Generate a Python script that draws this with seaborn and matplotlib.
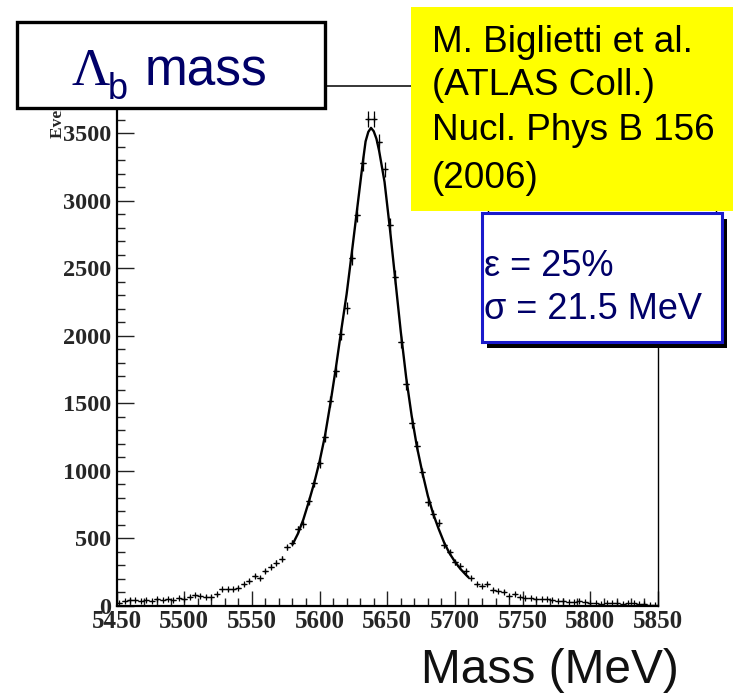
import numpy as np
import pandas as pd
import matplotlib
matplotlib.use("Agg")
import matplotlib.pyplot as plt
import seaborn as sns
from matplotlib.patches import Rectangle

# Lambda_b candidate mass spectrum, 4 MeV bins from 5450 to 5850 MeV
bin_centers = np.arange(5452, 5852, 4)
counts = [
    25, 35, 44, 42, 40, 45, 40, 50, 42, 55,
    45, 60, 52, 70, 78, 77, 70, 70, 87, 124,
    124, 124, 135, 160, 185, 222, 210, 259, 291, 320,
    350, 434, 470, 568, 605, 779, 908, 1056, 1249, 1515,
    1737, 2015, 2207, 2575, 2894, 3278, 3605, 3605, 3434, 3234,
    2820, 2435, 1956, 1641, 1358, 1185, 990, 768, 681, 617,
    452, 397, 323, 298, 261, 210, 161, 150, 160, 120,
    111, 106, 72, 88, 69, 62, 57, 49, 49, 49,
    44, 39, 37, 32, 32, 37, 32, 20, 25, 12,
    25, 25, 20, 12, 20, 20, 12, 15, 8, 5,
]

# Fitted signal curve over the peak region
fit_mass = [5580, 5584, 5588, 5592, 5596, 5600, 5604, 5608, 5612, 5616,
            5620, 5624, 5628, 5632, 5634, 5636, 5638, 5640, 5642, 5644,
            5648, 5652, 5656, 5660, 5664, 5668, 5672, 5676, 5680, 5684,
            5688, 5692, 5696, 5700, 5704, 5708, 5710]
fit_events = [455, 535, 640, 770, 910, 1070, 1260, 1500, 1760, 2040,
              2310, 2630, 2960, 3290, 3440, 3510, 3540, 3515, 3460, 3370,
              3140, 2790, 2410, 2030, 1690, 1410, 1175, 985, 815, 680,
              570, 470, 390, 328, 275, 232, 212]

x_ticks = [5450, 5500, 5550, 5600, 5650, 5700, 5750, 5800, 5850]
x_tick_labels = ["5450", "5500", "5550", "5600", "5650", "5700", "5750", "5800", "5850"]
y_ticks = [0, 500, 1000, 1500, 2000, 2500, 3000, 3500]
y_tick_labels = ["0", "500", "1000", "1500", "2000", "2500", "3000", "3500"]

W, H = 733, 693
NAVY = "#000068"


def fx(px):
    return px / W


def fy(py):
    return 1 - py / H


sns.set_style("ticks")
fig = plt.figure(figsize=(W / 100, H / 100), dpi=100)
fig.patch.set_facecolor("white")

ax = fig.add_axes([fx(116.5), fy(606), (658 - 116.5) / W, (606 - 86) / H])

df_fit = pd.DataFrame({"mass": fit_mass, "events": fit_events})
sns.lineplot(data=df_fit, x="mass", y="events", ax=ax, color="black",
             linewidth=1.7, sort=False, zorder=3)

counts_arr = np.asarray(counts, dtype=float)
ax.errorbar(bin_centers, counts_arr, xerr=2, yerr=np.sqrt(counts_arr),
            fmt="+", color="black", markersize=4.2, markeredgewidth=0.9,
            ecolor="black", elinewidth=0.9, capsize=0, zorder=4)

ax.set_xlim(5450, 5850)
ax.set_ylim(0, 3850)
ax.set_xlabel("")
ax.set_ylabel("")

ax.set_xticks(x_ticks)
ax.set_xticklabels(x_tick_labels)
ax.set_xticks(np.arange(5450, 5851, 10), minor=True)
ax.set_yticks(y_ticks)
ax.set_yticklabels(y_tick_labels)
ax.set_yticks(np.arange(0, 3851, 100), minor=True)

for lab in ax.get_xticklabels():
    lab.set_fontproperties(matplotlib.font_manager.FontProperties(
        family="Liberation Serif", weight="bold", size=18))
for lab in ax.get_yticklabels():
    lab.set_fontproperties(matplotlib.font_manager.FontProperties(
        family="Liberation Serif", weight="bold", size=17.5))

ax.tick_params(axis="x", which="major", direction="in", length=11, width=1.0,
               color="#222222", pad=3)
ax.tick_params(axis="x", which="minor", direction="in", length=5.5, width=1.0,
               color="#222222")
ax.tick_params(axis="y", which="major", direction="in", length=12, width=1.0,
               color="#222222", pad=4)
ax.tick_params(axis="y", which="minor", direction="in", length=5.5, width=1.0,
               color="#222222")
ax.tick_params(top=False, right=False, which="both")

for side, lw in (("left", 1.6), ("bottom", 1.6), ("right", 1.0), ("top", 1.1)):
    ax.spines[side].set_visible(True)
    ax.spines[side].set_linewidth(lw)
    ax.spines[side].set_color("black")

# y-axis title, mostly tucked under the title box
fig.text(fx(58), fy(138), "Events / 4 MeV", rotation=90, ha="center", va="bottom",
         family="Liberation Serif", weight="bold", fontsize=12.5, zorder=2)

# x-axis title
fig.text(fx(421), fy(683), "Mass (MeV)", family="Liberation Sans", fontsize=34.5,
         color="#111111", ha="left", va="baseline", zorder=12)

# Title box
fig.add_artist(Rectangle((fx(17), fy(108)), (325 - 17) / W, (108 - 22) / H,
                         transform=fig.transFigure, facecolor="white",
                         edgecolor="black", linewidth=2.4, zorder=10))
fig.text(fx(72), fy(85), "Λ", family="Liberation Serif", fontsize=38, color=NAVY,
         ha="left", va="baseline", zorder=11)
fig.text(fx(108), fy(99), "b", family="Liberation Sans", fontsize=26, color=NAVY,
         ha="left", va="baseline", zorder=11)
fig.text(fx(145), fy(85), "mass", family="Liberation Sans", fontsize=37, color=NAVY,
         ha="left", va="baseline", zorder=11)

# Statistics panel behind the annotations
fig.add_artist(Rectangle((fx(488), fy(230)), (716 - 488) / W, (230 - 150) / H,
                         transform=fig.transFigure, facecolor="white",
                         edgecolor="black", linewidth=1.0, zorder=5))

# Reference note
fig.add_artist(Rectangle((fx(411), fy(211)), (733 - 411) / W, (211 - 7) / H,
                         transform=fig.transFigure, facecolor="#ffff00",
                         edgecolor="none", zorder=6))
ref_lines = [("M. Biglietti et al.", 52), ("(ATLAS Coll.)", 95),
             ("Nucl. Phys B 156", 140), ("(2006)", 188)]
for txt, base in ref_lines:
    fig.text(fx(432), fy(base), txt, family="Liberation Sans", fontsize=26.6,
             color="black", ha="left", va="baseline", zorder=7)

# Efficiency / resolution box with drop shadow
fig.add_artist(Rectangle((fx(487), fy(348)), (727 - 487) / W, (348 - 219) / H,
                         transform=fig.transFigure, facecolor="black",
                         edgecolor="none", zorder=8))
fig.add_artist(Rectangle((fx(481.5), fy(342)), (722 - 481.5) / W, (342 - 213.5) / H,
                         transform=fig.transFigure, facecolor="white",
                         edgecolor="#1a1acc", linewidth=2.2, zorder=9))
fig.text(fx(484), fy(276), "ε = 25%", family="Liberation Sans", fontsize=26,
         color=NAVY, ha="left", va="baseline", zorder=10)
fig.text(fx(484), fy(319), "σ = 21.5 MeV", family="Liberation Sans", fontsize=26,
         color=NAVY, ha="left", va="baseline", zorder=10)

fig.savefig("out.png", dpi=100, facecolor="white")
